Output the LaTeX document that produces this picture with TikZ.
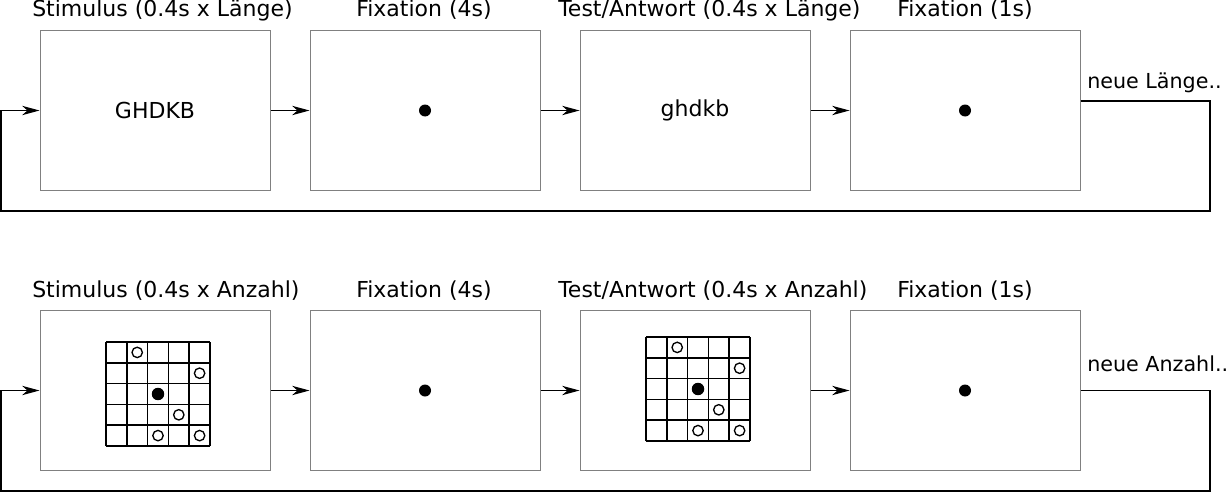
\documentclass[tikz,border=0pt]{standalone}
\usepackage{fontspec}
\setmainfont{DejaVu Sans}
\usetikzlibrary{arrows.meta}

\begin{document}
\begin{tikzpicture}[x=0.75pt, y=-0.75pt,
		frame/.style={draw=gray, line width=0.75pt, minimum width=172.5pt, minimum height=120pt, inner sep=0pt},
		arr/.style={-{Stealth[length=13pt, width=7pt, inset=4pt]}, line width=0.8pt},
		title/.style={anchor=base west, inner sep=0pt},
		font=\fontsize{16.5}{20}\selectfont]
		\useasboundingbox (0,0) rectangle (1230,492);

		\node[frame] (s1) at (155,110.5) {GHDKB};
		\node[frame] (f1) at (425,110.5) {};
		\node[frame] (t1) at (695,110.5) {ghdkb};
		\node[frame] (e1) at (965,110.5) {};
		\node[frame] (s2) at (155,390.5) {};
		\node[frame] (f2) at (425,390.5) {};
		\node[frame] (t2) at (695,390.5) {};
		\node[frame] (e2) at (965,390.5) {};

		\node[title] (ls1) at (32,17) {Stimulus (0.4s x Länge)};
		\node[title] (lf1) at (356,17) {Fixation (4s)};
		\node[title] (lt1) at (558,17) {Test/Antwort (0.4s x Länge)};
		\node[title] (le1) at (897,17) {Fixation (1s)};
		\node[title] (ls2) at (32,297) {Stimulus (0.4s x Anzahl)};
		\node[title] (lf2) at (356,297) {Fixation (4s)};
		\node[title] (lt2) at (558,297) {Test/Antwort (0.4s x Anzahl)};
		\node[title] (le2) at (897,297) {Fixation (1s)};
		\node[title, font=\fontsize{15.5}{19}\selectfont] (n1) at (1087,89) {neue Länge..};
		\node[title, font=\fontsize{15.5}{19}\selectfont] (n2) at (1087,371) {neue Anzahl..};

		\foreach \d in {f1,e1,f2,e2}
		\fill (\d) circle (6);

		\foreach \gx/\gy in {106/342, 646/337} {
			\begin{scope}[shift={(\gx,\gy+104)}, x=15.6pt, y=15.6pt]
				\foreach \i in {0,...,5} {
					\draw[line width=1.3pt] (\i,0) -- (\i,5);
					\draw[line width=1.3pt] (0,\i) -- (5,\i);
				}
				\foreach \c/\r in {1/0, 4/1, 3/3, 2/4, 4/4}
				\draw[line width=1pt] (\c+0.5,4.5-\r) circle (0.25);
				\fill (2.5,2.5) circle (0.3);
			\end{scope}
		}

		\foreach \a/\b in {s1/f1, f1/t1, t1/e1, s2/f2, f2/t2, t2/e2}
		\draw[arr] (\a) -- (\b);

		\coordinate (r1) at (1210,101);
		\coordinate (r2) at (1210,391);
		\draw[arr] (e1.east |- r1) -- (r1) |- (1,211) |- (s1.west);
		\draw[arr] (e2.east) -- (e2.east -| r2) |- (1,491) |- (s2.west);
	\end{tikzpicture}
\end{document}
